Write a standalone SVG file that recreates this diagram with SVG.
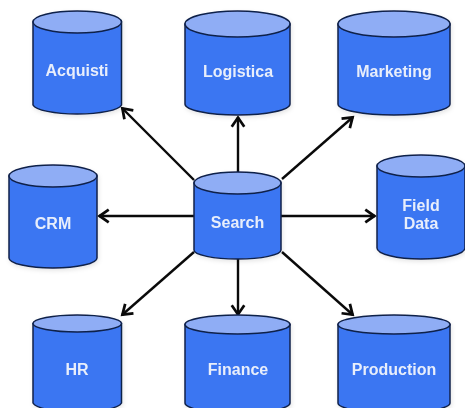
<svg xmlns="http://www.w3.org/2000/svg" width="465" height="408" viewBox="0 0 465 408">
<style>
.n{filter:url(#s)}
.b{fill:#3b76f2;stroke:#10204a;stroke-width:1.5}
.t{fill:#8fadf5;stroke:#10204a;stroke-width:1.5}
text{font-family:"Liberation Sans",Arial,sans-serif;font-size:16px;font-weight:bold;fill:#e8eefb;text-anchor:middle}
.c line{stroke:#0a0a0a;stroke-width:2.4;marker-end:url(#a)}
</style>
<defs>
<marker id="a" markerUnits="userSpaceOnUse" markerWidth="16" markerHeight="16" refX="12" refY="7" orient="auto" viewBox="0 0 14 14"><path d="M3.500 1.500L11.500 7L3.500 12.500" fill="none" stroke="#0a0a0a" stroke-width="2.400"/></marker>
<filter id="s" x="-10%" y="-10%" width="120%" height="120%"><feDropShadow dx="1" dy="2" stdDeviation="2" flood-color="#000" flood-opacity="0.1"/></filter>
</defs>
<rect width="465" height="408" fill="#fff"/>
<g class="c">
<line x1="194" y1="180" x2="122" y2="108"/>
<line x1="238" y1="172" x2="238" y2="117"/>
<line x1="282" y1="179" x2="353" y2="117"/>
<line x1="194" y1="216" x2="99" y2="216"/>
<line x1="281" y1="216" x2="375" y2="216"/>
<line x1="194" y1="252" x2="122" y2="315"/>
<line x1="238" y1="259" x2="238" y2="315"/>
<line x1="282" y1="252" x2="353" y2="315"/>
</g>
<g id="acquisti" class="n"><path class="b" d="M33 22V105A44.500 10 0 0 0 121.500 105V22Z"/><ellipse class="t" cx="77.250" cy="22" rx="44.250" ry="11"/><text x="77" y="76">Acquisti</text></g>
<g id="logistica" class="n"><path class="b" d="M185 24V104A52.500 11 0 0 0 290 104V24Z"/><ellipse class="t" cx="237.500" cy="24" rx="52.500" ry="13"/><text x="238" y="77">Logistica</text></g>
<g id="marketing" class="n"><path class="b" d="M338 24V104A56 11 0 0 0 450 104V24Z"/><ellipse class="t" cx="394" cy="24" rx="56" ry="13"/><text x="394" y="77">Marketing</text></g>
<g id="crm" class="n"><path class="b" d="M9 176V258A44 10 0 0 0 97 258V176Z"/><ellipse class="t" cx="53" cy="176" rx="44" ry="11"/><text x="53" y="229">CRM</text></g>
<g id="search" class="n"><path class="b" d="M194 183V250A43.500 9 0 0 0 281 250V183Z"/><ellipse class="t" cx="237.500" cy="183" rx="43.500" ry="11"/><text x="237.500" y="228">Search</text></g>
<g id="field-data" class="n"><path class="b" d="M377 166V248A44 11 0 0 0 465 248V166Z"/><ellipse class="t" cx="421" cy="166" rx="44" ry="11"/><text x="421" y="211">Field</text><text x="421" y="229">Data</text></g>
<g id="hr" class="n"><path class="b" d="M33 323.500V403A44.500 10 0 0 0 121.500 403V323.500Z"/><ellipse class="t" cx="77.250" cy="323.500" rx="44.250" ry="8.500"/><text x="77" y="375">HR</text></g>
<g id="finance" class="n"><path class="b" d="M185 324.500V403A52.500 10 0 0 0 290 403V324.500Z"/><ellipse class="t" cx="237.500" cy="324.500" rx="52.500" ry="9.500"/><text x="238" y="375">Finance</text></g>
<g id="production" class="n"><path class="b" d="M338 324.500V403A56 10 0 0 0 450 403V324.500Z"/><ellipse class="t" cx="394" cy="324.500" rx="56" ry="9.500"/><text x="394" y="375">Production</text></g>
</svg>
